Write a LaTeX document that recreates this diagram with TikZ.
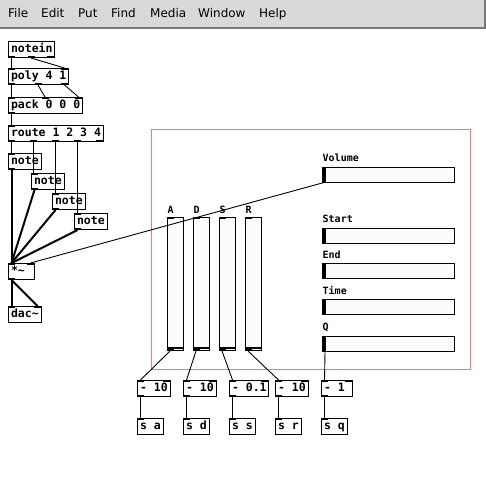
\documentclass[tikz,border=0pt]{standalone}
\usepackage{fontspec}
\newfontfamily\pdmono{DejaVu Sans Mono}
\newfontfamily\menufont{DejaVu Sans}
\definecolor{menugray}{RGB}{217,217,217}
\definecolor{menuedge}{RGB}{120,120,120}
\definecolor{cnvframe}{RGB}{245,120,120}
\definecolor{slfill}{RGB}{252,252,252}
\newcommand\bx[2]{\makebox[#1][l]{#2}}
\newcommand\pdio[4]{%
  \ifnum#3>0
  \foreach \k in {1,...,#3}{%
    \pgfmathsetmacro\off{(#2-7)*(\k-1)/max(#3-1,1)}%
    \fill ([xshift=\off pt]#1.north west) rectangle ++(7,2);}%
  \fi
  \ifnum#4>0
  \foreach \k in {1,...,#4}{%
    \pgfmathsetmacro\off{(#2-7)*(\k-1)/max(#4-1,1)}%
    \fill ([xshift=\off pt]#1.south west) rectangle ++(7,-2);}%
  \fi}
\begin{document}
\begin{tikzpicture}[x=1pt,y=-1pt,
  obj/.style={draw, line width=1pt, inner xsep=2.5pt, inner ysep=0pt, minimum height=16pt,
    anchor=north west, font=\pdmono\bfseries\fontsize{11.5}{14}\selectfont, text height=9pt, text depth=2.5pt},
  menuitem/.style={anchor=west, inner sep=0pt, font=\menufont\fontsize{12}{14}\selectfont, text height=9pt, text depth=2.5pt},
  lab/.style={anchor=west, inner sep=0pt, font=\pdmono\bfseries\fontsize{10}{12}\selectfont, text height=7.5pt, text depth=0pt},
  vsl/.style={draw, line width=1pt, fill=slfill, minimum width=16pt, minimum height=133pt, anchor=north west, inner sep=0pt},
  hsl/.style={draw, line width=1pt, fill=slfill, minimum width=132pt, minimum height=15pt, anchor=north west, inner sep=0pt},
  cord/.style={line width=0.9pt},
  sig/.style={line width=2pt}]
\useasboundingbox (0,0) rectangle (486,477);
\fill[white] (0,0) rectangle (486,477);
% menu bar
\fill[menugray] (0,0) rectangle (485,28);
\draw[menuedge, line width=1.5pt] (0,28) -- (485,28) -- (485,0);
\node[menuitem] (mfile) at (8,14) {File};
\node[menuitem] (medit) at (41,14) {Edit};
\node[menuitem] (mput) at (78,14) {Put};
\node[menuitem] (mfind) at (111,14) {Find};
\node[menuitem] (mmedia) at (150,14) {Media};
\node[menuitem] (mwindow) at (198,14) {Window};
\node[menuitem] (mhelp) at (259,14) {Help};
% canvas frame
\node[draw=cnvframe, line width=1pt, minimum width=319pt, minimum height=240pt, anchor=north west, inner sep=0pt] (cnv) at (151,129) {};
% objects
\node[obj] (notein) at (8,41) {\bx{41pt}{notein}};
\node[obj] (poly) at (8,68) {\bx{55pt}{poly 4 1}};
\node[obj] (pack) at (8,97) {\bx{69pt}{pack 0 0 0}};
\node[obj] (route) at (8,125) {\bx{90pt}{route 1 2 3 4}};
\node[obj] (note1) at (8,153) {\bx{28pt}{note}};
\node[obj] (note2) at (31,173) {\bx{28pt}{note}};
\node[obj] (note3) at (52,193) {\bx{28pt}{note}};
\node[obj] (note4) at (74,213) {\bx{28pt}{note}};
\node[obj] (mul) at (8,263) {\bx{21pt}{*\char`~}};
\node[obj] (dac) at (8,306) {\bx{28pt}{dac\char`~}};
\node[obj] (m1) at (137,380) {\bx{28pt}{- 10}};
\node[obj] (m2) at (183,380) {\bx{28pt}{- 10}};
\node[obj] (m3) at (229,380) {\bx{34pt}{- 0.1}};
\node[obj] (m4) at (275,380) {\bx{28pt}{- 10}};
\node[obj] (m5) at (321,380) {\bx{26pt}{- 1}};
\node[obj] (sa) at (137,418) {\bx{21pt}{s a}};
\node[obj] (sd) at (183,418) {\bx{21pt}{s d}};
\node[obj] (ss) at (229,418) {\bx{21pt}{s s}};
\node[obj] (sr) at (275,418) {\bx{21pt}{s r}};
\node[obj] (sq) at (321,418) {\bx{21pt}{s q}};
\pdio{notein}{46}{0}{3}
\pdio{poly}{60}{2}{3}
\pdio{pack}{74}{3}{1}
\pdio{route}{95}{1}{5}
\pdio{note1}{33}{1}{1}
\pdio{note2}{33}{1}{1}
\pdio{note3}{33}{1}{1}
\pdio{note4}{33}{1}{1}
\pdio{mul}{26}{2}{1}
\pdio{dac}{33}{2}{0}
\pdio{m1}{33}{2}{1}
\pdio{m2}{33}{2}{1}
\pdio{m3}{39}{2}{1}
\pdio{m4}{33}{2}{1}
\pdio{m5}{31}{2}{1}
\pdio{sa}{26}{1}{0}
\pdio{sd}{26}{1}{0}
\pdio{ss}{26}{1}{0}
\pdio{sr}{26}{1}{0}
\pdio{sq}{26}{1}{0}
% vertical sliders
\foreach \n/\x in {A/167,D/193,S/219,R/245}{
  \node[vsl] (\n) at (\x,217) {};
  \node[lab] (lab\n) at (\x+0.5,210) {\n};
  \fill ([yshift=4pt]\n.south west) rectangle ([yshift=2pt]\n.south east);
  \fill (\n.south west) rectangle ([xshift=7pt,yshift=2pt]\n.south west);
  \fill (\n.north west) rectangle ([xshift=7pt,yshift=-2pt]\n.north west);
}
% horizontal sliders
\foreach \n/\t/\y/\ly in {vol/Volume/166.5/158,start/Start/227.5/219,end/End/263/255,time/Time/299/291,q/Q/336/327}{
  \node[hsl] (\n) at (322,\y) {};
  \node[lab] (lab\n) at (322.5,\ly) {\t};
  \fill (\n.north west) rectangle ([xshift=4pt]\n.south west);
}
% connections
\draw[cord] ([xshift=3.5pt]notein.south west) -- ([xshift=3.5pt]poly.north west);
\draw[cord] ([xshift=23pt]notein.south west) -- ([xshift=56.5pt]poly.north west);
\draw[cord] ([xshift=3.5pt]poly.south west) -- ([xshift=3.5pt]pack.north west);
\draw[cord] ([xshift=30pt]poly.south west) -- ([xshift=37pt]pack.north west);
\draw[cord] ([xshift=56.5pt]poly.south west) -- ([xshift=70.5pt]pack.north west);
\draw[cord] ([xshift=3.5pt]pack.south west) -- ([xshift=3.5pt]route.north west);
\draw[cord] ([xshift=3.5pt]route.south west) -- ([xshift=3.5pt]note1.north west);
\draw[cord] ([xshift=25.5pt]route.south west) -- ([xshift=2.5pt]note2.north west);
\draw[cord] ([xshift=47.5pt]route.south west) -- ([xshift=3.5pt]note3.north west);
\draw[cord] ([xshift=69.5pt]route.south west) -- ([xshift=3.5pt]note4.north west);
\foreach \n in {note1,note2,note3,note4}
  \draw[sig] ([xshift=3.5pt]\n.south west) -- ([xshift=3.5pt]mul.north west);
\draw[cord] ([xshift=2pt]vol.south west) -- ([xshift=22.5pt]mul.north west);
\draw[sig] ([xshift=3.5pt]mul.south west) -- ([xshift=3.5pt]dac.north west);
\draw[sig] ([xshift=3.5pt]mul.south west) -- ([xshift=29.5pt]dac.north west);
\foreach \s/\m/\o in {A/m1/sa,D/m2/sd,S/m3/ss,R/m4/sr,q/m5/sq}{
  \draw[cord] ([xshift=3pt]\s.south west) -- ([xshift=3.5pt]\m.north west);
  \draw[cord] ([xshift=3.5pt]\m.south west) -- ([xshift=3.5pt]\o.north west);
}
\end{tikzpicture}
\end{document}
